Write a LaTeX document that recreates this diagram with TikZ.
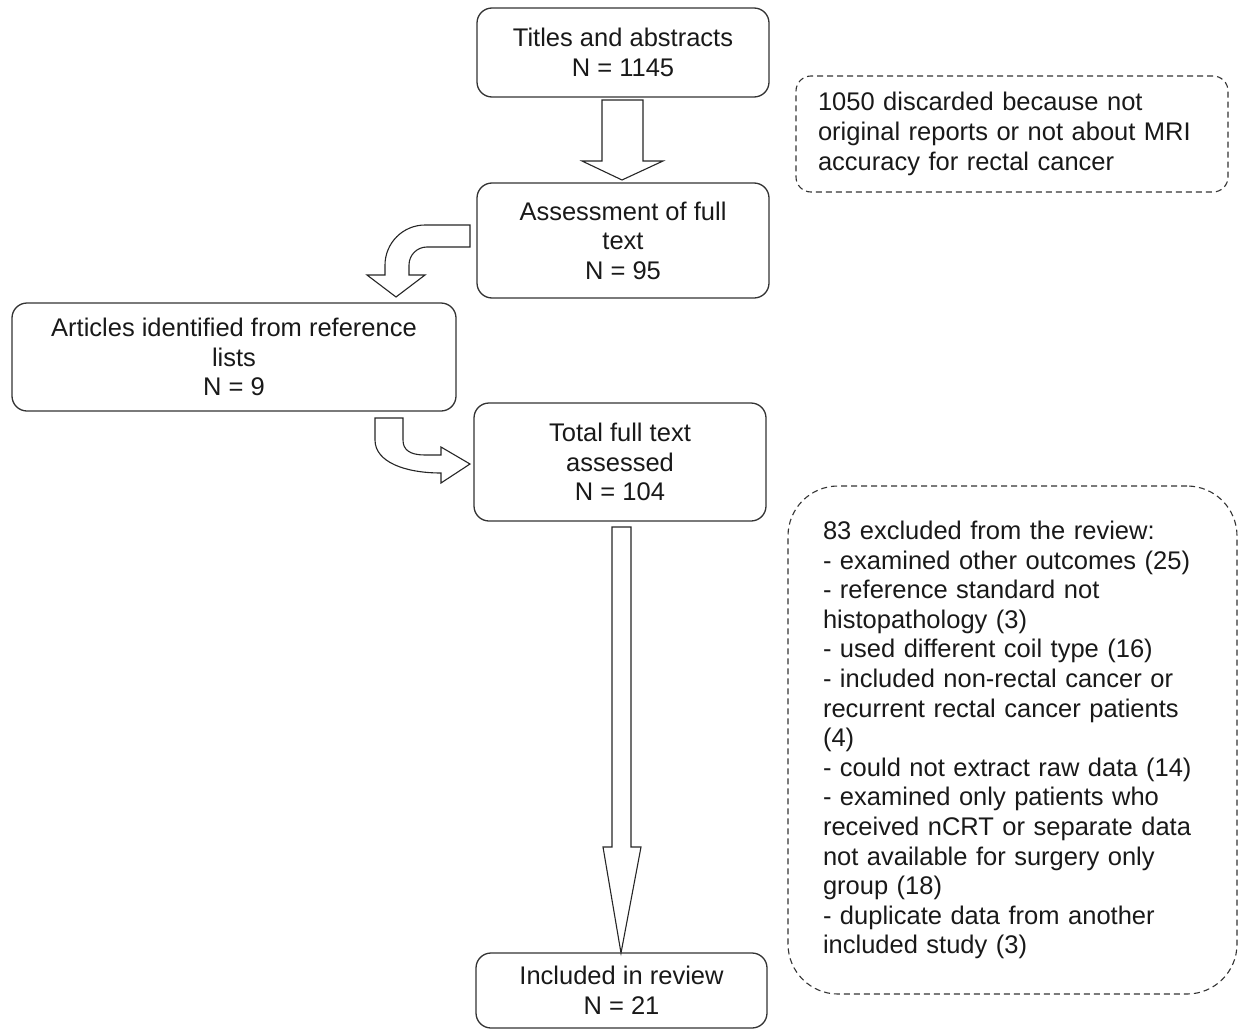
\documentclass[tikz,border=0pt]{standalone}
\usepackage{fontspec}
\setmainfont{Liberation Sans}
\begin{document}
\begin{tikzpicture}[x=1pt,y=-1pt,
  every node/.style={font=\fontsize{25.5}{29.6}\selectfont, text=black!90},
  solidbox/.style={draw=black!80, line width=1.3pt, rounded corners=15pt, align=center, inner sep=0pt},
  dashbox/.style={draw=black!80, line width=1.1pt, dash pattern=on 6pt off 4pt, align=left, inner ysep=0pt},
  blockarrow/.style={draw=black!85, line width=1.1pt, fill=white, line join=miter}]
\useasboundingbox (0,0) rectangle (1238,1030);
\node[solidbox, minimum width=292pt, minimum height=89pt] (b1) at (623,52.5) {Titles and abstracts\\N = 1145};
\node[solidbox, minimum width=292pt, minimum height=115pt] (b2) at (623,240.5) {Assessment of full\\text\\N = 95};
\node[solidbox, minimum width=444pt, minimum height=108pt] (b3) at (234,357) {Articles identified from reference\\lists\\N = 9};
\node[solidbox, minimum width=292pt, minimum height=118pt] (b4) at (620,462) {Total full text\\assessed\\N = 104};
\node[solidbox, minimum width=291pt, minimum height=75pt] (b5) at (621.5,990.5) {Included in review\\N = 21};
\node[dashbox, rounded corners=15pt, minimum width=432pt, minimum height=116pt, inner xsep=22pt, text width=388pt] (d1) at (1012,134)
 {1050 discarded because not\\original reports or not about MRI\\accuracy for rectal cancer};
\node[dashbox, rounded corners=50pt, minimum width=449pt, minimum height=508pt, inner xsep=35pt, text width=379pt] (d2) at (1012.5,740)
 {83 excluded from the review:\\- examined other outcomes (25)\\- reference standard not\\histopathology (3)\\- used different coil type (16)\\- included non-rectal cancer or\\recurrent rectal cancer patients\\(4)\\- could not extract raw data (14)\\- examined only patients who\\received nCRT or separate data\\not available for surgery only\\group (18)\\- duplicate data from another\\included study (3)};
% block arrow b1 -> b2
\draw[blockarrow] (602,100) -- (643,100) -- (643,161) -- (663,161) -- (622,180) -- (582,161) -- (602,161) -- cycle;
% curved arrow b2 -> b3
\draw[blockarrow] (470,225) -- (425,225) .. controls (403,225) and (385,243) .. (385,265) -- (385,275) -- (367,275) -- (396,297) -- (425,275) -- (409,275) -- (409,265) .. controls (409,255) and (417,247) .. (427,247) -- (470,247) -- cycle;
% curved arrow b3 -> b4
\draw[blockarrow] (375,418) -- (375,440) .. controls (375,462) and (405,473) .. (441,473) -- (441,483) -- (470,464) -- (441,447) -- (441,455) -- (425,455) .. controls (410,455) and (403,450) .. (403,440) -- (403,418) -- cycle;
% long arrow b4 -> b5
\draw[blockarrow] (612,527) -- (631,527) -- (631,847) -- (641,847) -- (621,953) -- (603,847) -- (612,847) -- cycle;
\end{tikzpicture}
\end{document}
